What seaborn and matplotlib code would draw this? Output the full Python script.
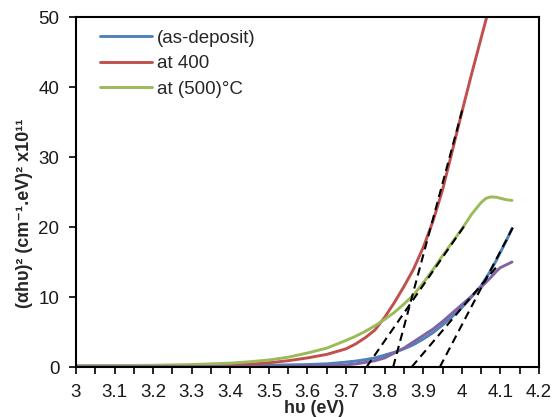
import matplotlib
matplotlib.use("Agg")
import matplotlib.pyplot as plt
import seaborn as sns
import pandas as pd

# photon energy (eV)
energy = [3.00, 3.10, 3.20, 3.30, 3.40, 3.45, 3.50, 3.55, 3.60, 3.65, 3.70,
          3.725, 3.75, 3.775, 3.80, 3.825, 3.85, 3.875, 3.90, 3.925, 3.95,
          3.975, 4.00, 4.025, 4.05, 4.0625, 4.075, 4.09, 4.10, 4.115, 4.13]

# (alpha h nu)^2 x 1e-11
as_deposit = [0.15, 0.15, 0.18, 0.20, 0.22, 0.24, 0.25, 0.30, 0.35, 0.45, 0.70,
              0.85, 1.05, 1.30, 1.70, 2.10, 2.60, 3.20, 4.00, 4.90, 6.00,
              7.20, 8.50, 10.0, 11.6, 12.7, 13.8, 15.3, 16.4, 18.0, 19.8]
at_400 = [0.10, 0.12, 0.15, 0.20, 0.30, 0.40, 0.60, 0.90, 1.30, 1.80, 2.60,
          3.30, 4.20, 5.30, 7.10, 9.20, 11.5, 14.0, 17.1, 20.8, 25.3,
          30.8, 36.4, 41.8, 47.0, 49.6, 52.3, 55.4, 57.5, 60.7, 63.8]
at_500 = [0.15, 0.20, 0.25, 0.35, 0.55, 0.75, 1.00, 1.40, 2.00, 2.70, 3.80,
          4.40, 5.10, 5.90, 6.80, 7.80, 9.00, 10.3, 12.0, 13.9, 15.9,
          17.8, 19.7, 21.8, 23.5, 24.1, 24.3, 24.25, 24.1, 23.9, 23.8]
extra = [0.05, 0.05, 0.05, 0.05, 0.05, 0.05, 0.05, 0.08, 0.10, 0.15, 0.30,
         0.45, 0.65, 0.90, 1.30, 2.00, 2.70, 3.60, 4.50, 5.40, 6.50,
         7.70, 8.90, 10.1, 11.4, 12.1, 12.8, 13.7, 14.2, 14.6, 15.0]

series_names = ["(as-deposit)", "at 400", "at (500)°C", "_extra"]
series_colors = ["#4F81BD", "#C0504D", "#9BBB59", "#8064A2"]

# linear extrapolations used to read the band gap: (x0, y0, x1, y1)
tangent_x0 = [3.822, 3.753, 3.870, 3.943]
tangent_y0 = [0.0, 0.0, 0.0, 0.0]
tangent_x1 = [4.003, 4.012, 4.090, 4.132]
tangent_y1 = [37.1, 20.6, 14.3, 19.9]

x_ticks = [3.0, 3.1, 3.2, 3.3, 3.4, 3.5, 3.6, 3.7, 3.8, 3.9, 4.0, 4.1, 4.2]
x_tick_labels = ["3", "3.1", "3.2", "3.3", "3.4", "3.5", "3.6", "3.7",
                 "3.8", "3.9", "4", "4.1", "4.2"]
y_ticks = [0, 10, 20, 30, 40, 50]

sns.set_theme(style="white")
fam = ["Liberation Sans", "DejaVu Sans"]
plt.rcParams["font.family"] = fam
plt.rcParams["axes.unicode_minus"] = False

df = pd.DataFrame({
    "energy": energy * 4,
    "value": as_deposit + at_400 + at_500 + extra,
    "series": sum([[n] * len(energy) for n in series_names], []),
})

fig = plt.figure(figsize=(5.53, 4.17), dpi=100)
ax = fig.add_axes([0.1374, 0.1199, 0.8373, 0.8393])

sns.lineplot(data=df, x="energy", y="value", hue="series",
             hue_order=series_names, palette=series_colors,
             linewidth=2.1, legend=False, ax=ax, sort=False)

for x0, y0, x1, y1 in zip(tangent_x0, tangent_y0, tangent_x1, tangent_y1):
    ax.plot([x0, x1], [y0, y1], color="black", linewidth=1.5,
            linestyle=(0, (4, 2.5)), zorder=5)

ax.set_xlim(3.0, 4.2)
ax.set_ylim(0, 50)
ax.set_xticks(x_ticks)
ax.set_xticklabels(x_tick_labels)
ax.set_xticks([t + 0.05 for t in x_ticks[:-1]], minor=True)
ax.set_yticks(y_ticks)

ax.tick_params(axis="both", which="both", direction="out", color="black",
               labelsize=13.5, labelcolor="#1a1a1a")
ax.tick_params(axis="x", which="both", length=5, width=1.2, pad=7,
               bottom=True)
ax.tick_params(axis="y", which="major", length=5, width=1.2, pad=7,
               left=True)

for s in ax.spines.values():
    s.set_color("black")
    s.set_linewidth(1.5)

ax.set_xlabel("hυ (eV)", fontsize=13, fontweight="bold", family=fam,
              va="bottom")
ax.xaxis.set_label_coords(0.515, -0.142)
ax.set_ylabel("(αhυ)² (cm⁻¹.eV)² x10¹¹", fontsize=13, fontweight="bold",
              family=fam)
ax.yaxis.set_label_coords(-0.093, 0.44)

handles = [plt.Line2D([], [], color=c, linewidth=2.1) for c in series_colors[:3]]
ax.legend(handles, series_names[:3], loc="upper left",
          bbox_to_anchor=(0.035, 0.985), frameon=False, fontsize=13.5,
          handlelength=2.8, handletextpad=0.25, labelspacing=0.45,
          borderaxespad=0.0)

fig.savefig("out.png", dpi=100)
